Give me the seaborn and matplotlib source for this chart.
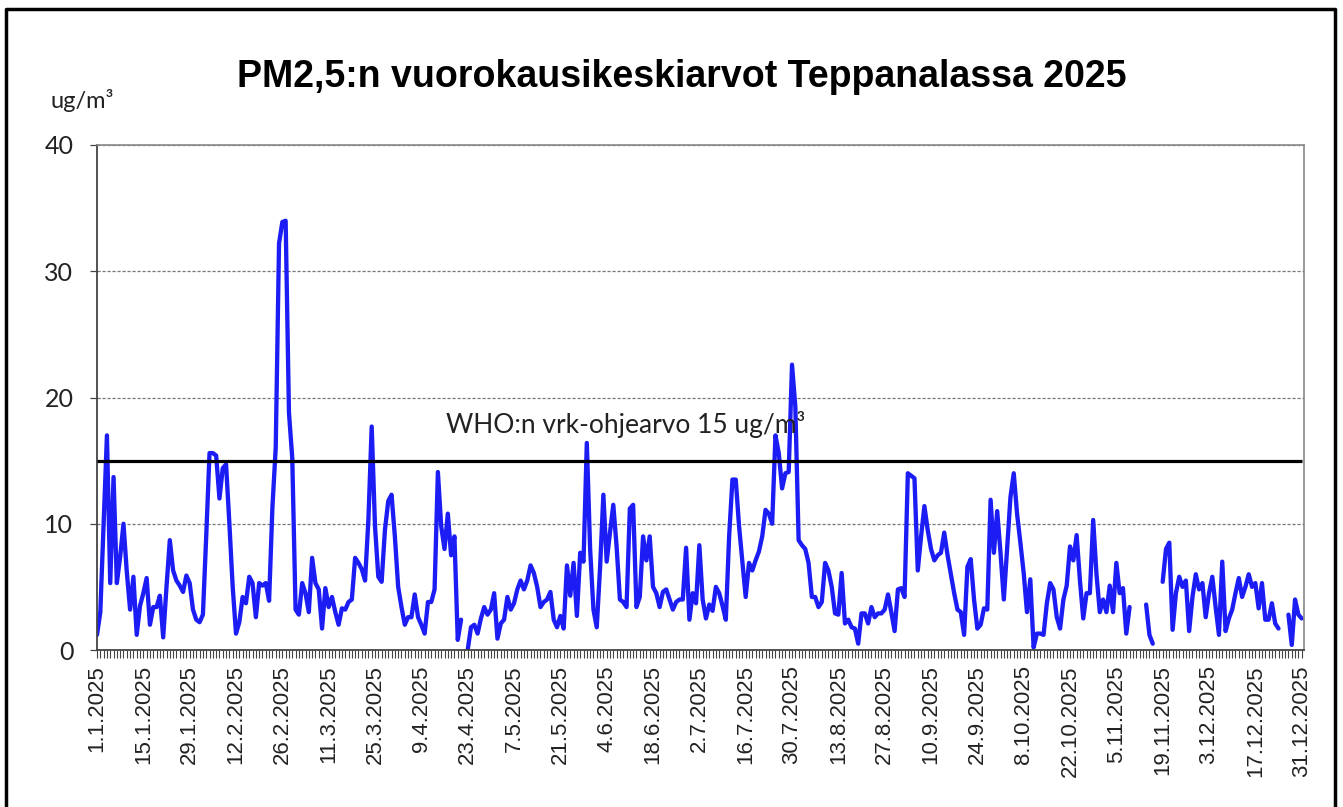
import numpy as np
import pandas as pd
import matplotlib
matplotlib.use("Agg")
import matplotlib.pyplot as plt
from matplotlib.lines import Line2D
import seaborn as sns

nan = np.nan

# Daily PM2.5 means (ug/m3), day index 0 = 1.1.2025
pm25 = [
    1.2, 3.0, 10.0, 17.0, 5.3, 13.7, 5.3, 7.4, 10.0, 6.2,
    3.2, 5.8, 1.2, 3.5, 4.5, 5.7, 2.0, 3.4, 3.4, 4.3,
    1.0, 5.0, 8.7, 6.3, 5.5, 5.1, 4.6, 5.9, 5.3, 3.2,
    2.4, 2.2, 2.8, 9.0, 15.6, 15.6, 15.4, 12.0, 14.4, 14.7,
    10.0, 5.0, 1.3, 2.2, 4.2, 3.7, 5.8, 5.3, 2.6, 5.3,
    5.1, 5.3, 3.9, 11.3, 16.0, 32.2, 33.9, 34.0, 18.8, 15.2,
    3.2, 2.8, 5.3, 4.5, 3.0, 7.3, 5.3, 4.8, 1.7, 4.9,
    3.4, 4.2, 3.0, 2.0, 3.3, 3.2, 3.8, 4.0, 7.3, 6.9,
    6.4, 5.5, 10.3, 17.7, 9.8, 5.8, 5.4, 9.5, 11.8, 12.3,
    9.0, 5.0, 3.4, 2.0, 2.6, 2.6, 4.4, 2.6, 2.0, 1.3,
    3.8, 3.8, 4.8, 14.1, 9.8, 8.0, 10.8, 7.5, 9.0, 0.8,
    2.4, nan, 0.0, 1.8, 2.0, 1.3, 2.5, 3.4, 2.8, 3.2,
    4.5, 0.9, 2.1, 2.4, 4.2, 3.2, 3.7, 4.8, 5.5, 4.8,
    5.5, 6.7, 6.1, 5.0, 3.4, 3.8, 4.0, 4.6, 2.4, 1.8,
    2.7, 1.7, 6.7, 4.3, 6.9, 2.7, 7.7, 7.0, 16.4, 8.0,
    3.2, 1.8, 6.5, 12.3, 7.0, 9.3, 11.5, 8.2, 4.0, 3.8,
    3.4, 11.2, 11.5, 3.4, 4.2, 9.0, 7.1, 9.0, 5.0, 4.5,
    3.4, 4.6, 4.8, 4.0, 3.2, 3.8, 4.0, 4.0, 8.1, 2.4,
    4.5, 3.7, 8.3, 4.0, 2.5, 3.6, 3.1, 5.0, 4.5, 3.5,
    2.4, 9.0, 13.5, 13.5, 9.8, 7.0, 4.2, 6.9, 6.3, 7.1,
    7.8, 9.0, 11.1, 10.8, 10.0, 17.0, 15.6, 12.8, 14.0, 14.1,
    22.6, 19.3, 8.7, 8.3, 8.0, 6.9, 4.2, 4.2, 3.4, 3.8,
    6.9, 6.3, 5.0, 2.9, 2.8, 6.1, 2.1, 2.4, 1.8, 1.7,
    0.5, 2.9, 2.9, 2.1, 3.4, 2.6, 2.9, 2.9, 3.2, 4.4,
    3.0, 1.5, 4.8, 4.9, 4.2, 14.0, 13.8, 13.6, 6.3, 9.0,
    11.4, 9.5, 8.0, 7.1, 7.5, 7.7, 9.3, 7.5, 6.0, 4.5,
    3.2, 3.0, 1.2, 6.6, 7.2, 4.0, 1.7, 2.0, 3.3, 3.2,
    11.9, 7.7, 11.0, 7.7, 4.0, 8.0, 12.1, 14.0, 10.8, 8.5,
    6.1, 3.0, 5.6, 0.2, 1.3, 1.3, 1.2, 3.7, 5.3, 4.8,
    2.6, 1.7, 4.0, 5.1, 8.2, 7.1, 9.1, 5.5, 2.5, 4.5,
    4.5, 10.3, 6.0, 3.0, 4.0, 3.0, 5.1, 3.0, 6.9, 4.5,
    4.9, 1.3, 3.4, nan, nan, nan, nan, 3.6, 1.2, 0.5,
    nan, nan, 5.4, 8.0, 8.5, 1.6, 4.5, 5.8, 5.0, 5.5,
    1.5, 4.2, 6.0, 4.8, 5.3, 2.6, 4.5, 5.8, 3.4, 1.2,
    7.0, 1.5, 2.5, 3.2, 4.5, 5.7, 4.2, 5.0, 6.0, 5.0,
    5.3, 3.3, 5.3, 2.4, 2.4, 3.7, 2.1, 1.7, nan, nan,
    2.8, 0.4, 4.0, 2.8, 2.5,
]
assert len(pm25) == 365

tick_labels = [
    "1.1.2025", "15.1.2025", "29.1.2025", "12.2.2025", "26.2.2025",
    "11.3.2025", "25.3.2025", "9.4.2025", "23.4.2025", "7.5.2025",
    "21.5.2025", "4.6.2025", "18.6.2025", "2.7.2025", "16.7.2025",
    "30.7.2025", "13.8.2025", "27.8.2025", "10.9.2025", "24.9.2025",
    "8.10.2025", "22.10.2025", "5.11.2025", "19.11.2025", "3.12.2025",
    "17.12.2025", "31.12.2025",
]
tick_step = 14
who_limit = 15
y_ticks = [0, 10, 20, 30, 40]

title = "PM2,5:n vuorokausikeskiarvot Teppanalassa 2025"
unit_label = "ug/m³"
who_label = "WHO:n vrk-ohjearvo 15 ug/m³"

# ---------------------------------------------------------------
sns.set_style("white")
plt.rcParams["font.family"] = ["Liberation Sans", "DejaVu Sans"]

W, H = 1343, 807
fig = plt.figure(figsize=(W / 100, H / 100), dpi=100)
fig.patch.set_facecolor("white")

ax = fig.add_axes([97 / W, 1 - 650 / H, (1304 - 97) / W, (650 - 145) / H])

df = pd.DataFrame({"day": np.arange(len(pm25)), "pm": pm25})
df["segment"] = df["pm"].isna().cumsum()
df = df.dropna()

sns.lineplot(data=df, x="day", y="pm", units="segment", estimator=None,
             color="#1c1cf5", linewidth=3.1, ax=ax, legend=False)

ax.hlines(who_limit, 0, len(pm25) - 1, color="black", linewidth=2.3, zorder=3)

ax.set_xlim(0, len(pm25) - 1 + 0.7)
ax.set_ylim(0, 40)
ax.set_xlabel("")
ax.set_ylabel("")

ax.set_yticks(y_ticks)
ax.set_yticklabels([str(v) for v in y_ticks], family=["Lato", "DejaVu Sans"],
                   fontsize=18, color="#222222")
ax.grid(axis="y", linestyle=(0, (2.5, 1.5)), color="#777777", linewidth=0.9)
ax.grid(axis="x", visible=False)

major = np.arange(len(tick_labels)) * tick_step
ax.set_xticks(major)
ax.set_xticklabels(tick_labels, rotation=90, fontsize=16, color="#222222",
                   ha="center", va="top")
ax.set_xticks(np.arange(len(pm25)), minor=True)
ax.tick_params(axis="x", which="both", direction="out", length=6,
               width=0.8, color="#444444", bottom=True, pad=5)
ax.tick_params(axis="y", which="major", direction="out", length=5,
               width=0.9, color="#444444", left=True, pad=12)

for side in ["left", "bottom"]:
    ax.spines[side].set_color("#444444")
    ax.spines[side].set_linewidth(1.3)
for side in ["top", "right"]:
    ax.spines[side].set_color("#888888")
    ax.spines[side].set_linewidth(1.2)

fig.text(682 / W, 1 - 77 / H, title, ha="center", va="center",
         fontsize=27, fontweight="bold", color="black")
fig.text(50 / W, 1 - 101 / H, unit_label, ha="left", va="center",
         fontsize=17, family=["Lato", "DejaVu Sans"], color="#222222")
fig.text(446 / W, 1 - 425 / H, who_label, ha="left", va="center",
         fontsize=19, family=["Lato", "DejaVu Sans"], color="#222222")

# outer frame
fig.add_artist(Line2D([6 / W, 6 / W, 1335 / W, 1335 / W],
                      [0, 1 - 9 / H, 1 - 9 / H, 0],
                      transform=fig.transFigure, color="black", linewidth=2.5))

fig.savefig("out.png", dpi=100)
